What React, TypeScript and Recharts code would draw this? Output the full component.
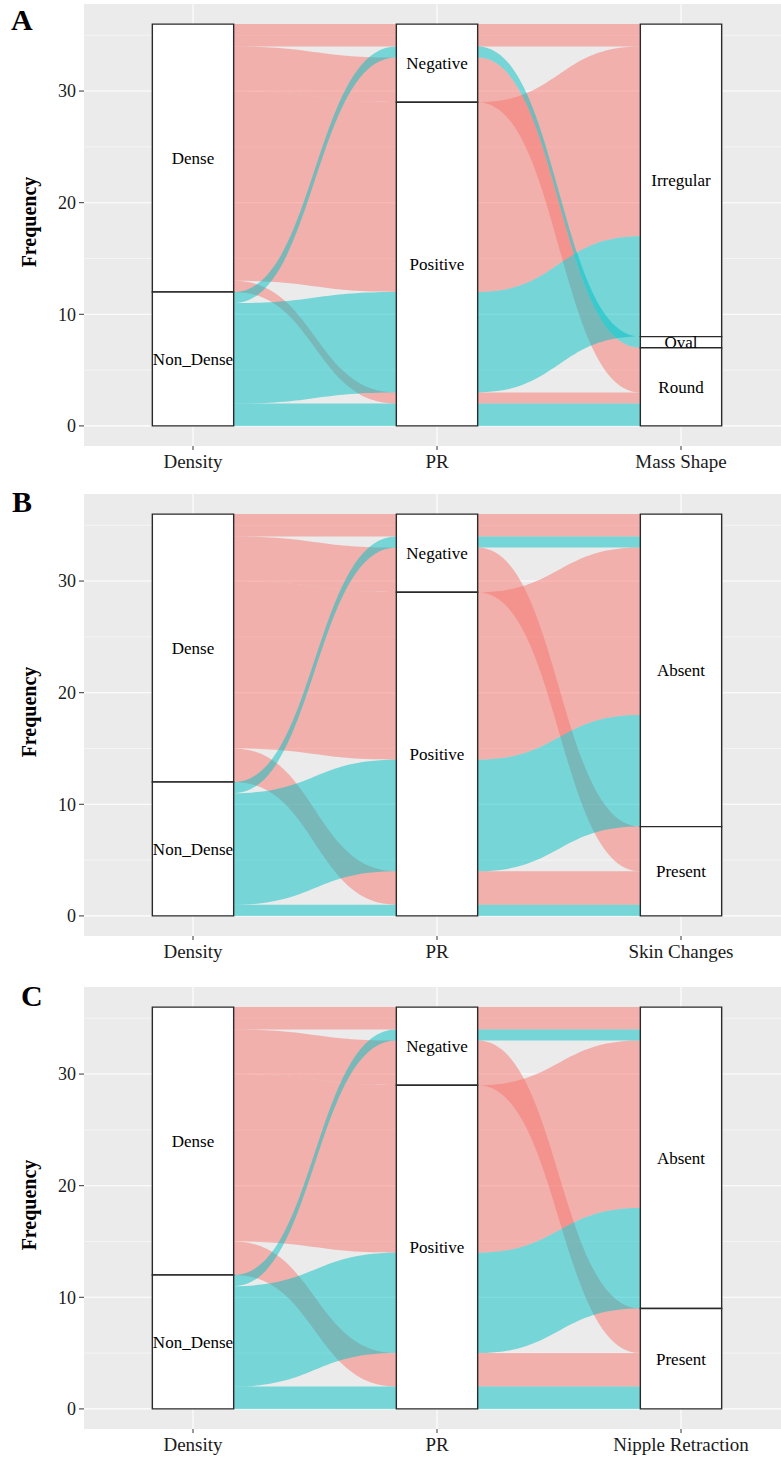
import React from 'react';
import { ComposedChart, Area, XAxis, YAxis, CartesianGrid, ReferenceArea } from 'recharts';

// ---------- data ----------
const densityStrata = ['Dense', 'Non_Dense'];
const prStrata = ['Negative', 'Positive'];
const massShapeStrata = ['Irregular', 'Oval', 'Round'];
const skinStrata = ['Absent', 'Present'];
const nippleStrata = ['Absent', 'Present'];

const axesA = ['Density', 'PR', 'Mass Shape'];
const axesB = ['Density', 'PR', 'Skin Changes'];
const axesC = ['Density', 'PR', 'Nipple Retraction'];

// Panel A alluvia (stratum index per axis, frequency)
const aDensity = [0, 1, 0, 0, 1, 0, 1];
const aPR = [0, 0, 0, 1, 1, 1, 1];
const aMass = [0, 1, 2, 0, 0, 2, 2];
const aCount = [2, 1, 4, 17, 9, 1, 2];

// Panel B alluvia
const bDensity = [0, 1, 0, 0, 1, 0, 1];
const bPR = [0, 0, 0, 1, 1, 1, 1];
const bSkin = [0, 0, 1, 0, 0, 1, 1];
const bCount = [2, 1, 4, 15, 10, 3, 1];

// Panel C alluvia
const cDensity = [0, 1, 0, 0, 1, 0, 1];
const cPR = [0, 0, 0, 1, 1, 1, 1];
const cNipple = [0, 0, 1, 0, 0, 1, 1];
const cCount = [2, 1, 4, 15, 9, 3, 2];

const yTicks = [0, 10, 20, 30];
const yMinor = [5, 15, 25, 35];
const fillColors = ['#F8766D', '#00BFC4'];

// ---------- layout helpers ----------
const BOX_W = 1 / 3;
const SERIF = "'Liberation Serif', 'DejaVu Serif', serif";

function computeLayout(idx: number[][], counts: number[], strata: string[][]) {
  const total = counts.reduce((a, b) => a + b, 0);
  const nAx = idx.length;
  const zig = [[1, 2], [2, 0], [1, 0]];
  const lodes: number[][][] = [];
  const boxes: { axis: number; name: string; lo: number; hi: number }[] = [];
  for (let k = 0; k < nAx; k++) {
    const ids = counts.map((_, i) => i);
    const [o1, o2] = zig[k];
    ids.sort((a, b) =>
      idx[k][a] - idx[k][b] || idx[o1][a] - idx[o1][b] || idx[o2][a] - idx[o2][b]
    );
    let top = total;
    const arr: number[][] = [];
    ids.forEach((id) => {
      arr[id] = [top - counts[id], top];
      top -= counts[id];
    });
    lodes.push(arr);
    let st = total;
    strata[k].forEach((name, s) => {
      const c = counts.reduce((acc, v, i) => acc + (idx[k][i] === s ? v : 0), 0);
      boxes.push({ axis: k, name, lo: st - c, hi: st });
      st -= c;
    });
  }
  const rows: any[] = [];
  for (let k = 0; k < nAx; k++) {
    const make = (x: number) => {
      const r: any = { x };
      counts.forEach((_, i) => (r['f' + i] = lodes[k][i]));
      return r;
    };
    if (k > 0) rows.push(make(k + 1 - BOX_W / 2));
    if (k < nAx - 1) rows.push(make(k + 1 + BOX_W / 2));
  }
  return { rows, boxes };
}

const PLOT_H = 442;
const CHART_H = 476;

function Panel(props: {
  axes: string[];
  idx: number[][];
  counts: number[];
  strata: string[][];
  fillBy: number[];
  top: number;
  letter: string;
  letterX: number;
  letterY: number;
}) {
  const { axes, idx, counts, strata, fillBy, top, letter, letterX, letterY } = props;
  const { rows, boxes } = computeLayout(idx, counts, strata);
  const order = counts.map((_, i) => i).sort((a, b) => fillBy[a] - fillBy[b]);
  return (
    <div style={{ position: 'absolute', left: 0, top, width: 781, height: CHART_H }}>
      <ComposedChart
        width={781}
        height={CHART_H}
        data={rows}
        margin={{ top: 4, right: 0, bottom: 0, left: 0 }}
      >
        <CartesianGrid
          fill="#EBEBEB"
          fillOpacity={1}
          stroke="#FFFFFF"
          strokeWidth={1.1}
          horizontalValues={yTicks}
          verticalValues={[1, 2, 3]}
        />
        <CartesianGrid
          stroke="#FFFFFF"
          strokeWidth={0.5}
          horizontalValues={yMinor}
          vertical={false}
        />
        <XAxis
          type="number"
          dataKey="x"
          domain={[1 - 109 / 244, 3 + 100 / 244]}
          allowDataOverflow
          ticks={[1, 2, 3]}
          interval={0}
          tickFormatter={(v: number) => axes[Math.round(v) - 1]}
          axisLine={false}
          tickSize={4}
          tickMargin={5}
          tickLine={{ stroke: '#333333' }}
          tick={{ fontSize: 19, fontFamily: SERIF, fill: '#1A1A1A' }}
          height={CHART_H - 4 - PLOT_H}
        />
        <YAxis
          type="number"
          domain={[-1.8, 37.8]}
          allowDataOverflow
          ticks={yTicks}
          interval={0}
          axisLine={false}
          tickSize={5}
          tickMargin={3}
          tickLine={{ stroke: '#333333' }}
          tick={{ fontSize: 18, fontFamily: SERIF, fill: '#1A1A1A' }}
          width={84}
          label={{
            content: (p: any) => {
              const vb = p.viewBox || { x: 0, y: 4, height: PLOT_H };
              const cy = vb.y + vb.height / 2 - 3;
              return (
                <text
                  x={29}
                  y={cy}
                  transform={`rotate(-90, 29, ${cy})`}
                  textAnchor="middle"
                  dominantBaseline="central"
                  fontFamily={SERIF}
                  fontWeight="bold"
                  fontSize={20}
                  fill="#000"
                >
                  Frequency
                </text>
              );
            },
          }}
        />
        {order.map((i) => (
          <Area
            key={'f' + i}
            dataKey={'f' + i}
            type="bumpX"
            stroke="none"
            fill={fillColors[fillBy[i]]}
            fillOpacity={0.5}
            isAnimationActive={false}
            dot={false}
            activeDot={false}
            legendType="none"
          />
        ))}
        {boxes.map((b, j) => (
          <ReferenceArea
            key={'b' + j}
            x1={b.axis + 1 - BOX_W / 2}
            x2={b.axis + 1 + BOX_W / 2}
            y1={b.lo}
            y2={b.hi}
            fill="#FFFFFF"
            fillOpacity={1}
            stroke="#2A2A2A"
            strokeWidth={1.4}
            ifOverflow="visible"
            label={{
              value: b.name,
              position: 'center',
              fontSize: 17,
              fontFamily: SERIF,
              fill: '#000000',
            }}
          />
        ))}
      </ComposedChart>
      <div
        style={{
          position: 'absolute',
          left: letterX,
          top: letterY,
          fontFamily: SERIF,
          fontWeight: 'bold',
          fontSize: 30,
          lineHeight: '30px',
          color: '#000',
        }}
      >
        {letter}
      </div>
    </div>
  );
}

export default function App() {
  return (
    <div
      style={{
        position: 'absolute',
        left: 0,
        top: 0,
        width: 781,
        height: 1458,
        overflow: 'hidden',
        background: '#FFFFFF',
      }}
    >
      <Panel
        axes={axesA}
        idx={[aDensity, aPR, aMass]}
        counts={aCount}
        strata={[densityStrata, prStrata, massShapeStrata]}
        fillBy={aDensity}
        top={0}
        letter="A"
        letterX={11}
        letterY={5}
      />
      <Panel
        axes={axesB}
        idx={[bDensity, bPR, bSkin]}
        counts={bCount}
        strata={[densityStrata, prStrata, skinStrata]}
        fillBy={bDensity}
        top={490}
        letter="B"
        letterX={12}
        letterY={-3}
      />
      <Panel
        axes={axesC}
        idx={[cDensity, cPR, cNipple]}
        counts={cCount}
        strata={[densityStrata, prStrata, nippleStrata]}
        fillBy={cDensity}
        top={983}
        letter="C"
        letterX={21}
        letterY={-2}
      />
    </div>
  );
}
